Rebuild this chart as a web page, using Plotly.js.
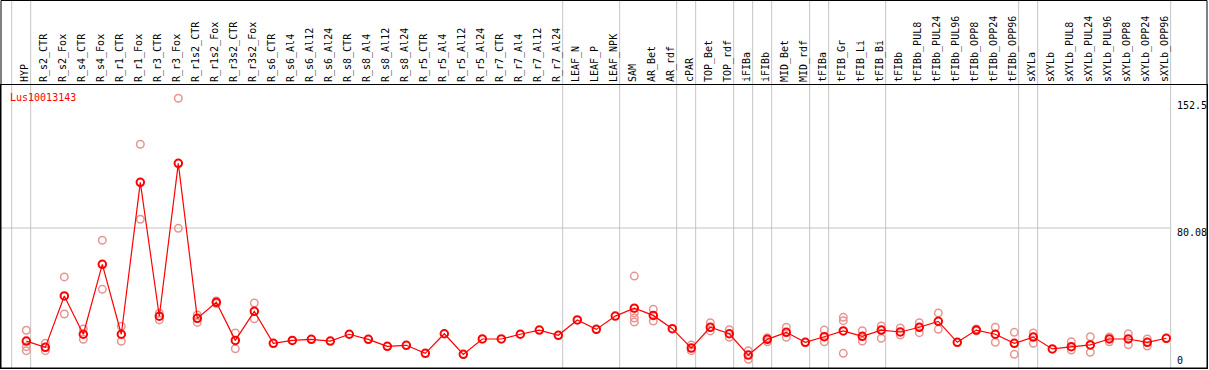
<!DOCTYPE html>
<html>
<head>
<meta charset="utf-8">
<script src="https://cdn.plot.ly/plotly-3.0.1.min.js"></script>
<style>html,body{margin:0;padding:0;background:#fff;}#chart{width:1209px;height:370px;}</style>
</head>
<body>
<div id="chart"></div>
<script>
// ---- data ----
const geneName = "Lus10013143";
const categories = ["HYP","R_s2_CTR","R_s2_Fox","R_s4_CTR","R_s4_Fox","R_r1_CTR","R_r1_Fox","R_r3_CTR","R_r3_Fox",
  "R_r1s2_CTR","R_r1s2_Fox","R_r3s2_CTR","R_r3s2_Fox","R_s6_CTR","R_s6_Al4","R_s6_Al12","R_s6_Al24",
  "R_s8_CTR","R_s8_Al4","R_s8_Al12","R_s8_Al24","R_r5_CTR","R_r5_Al4","R_r5_Al12","R_r5_Al24",
  "R_r7_CTR","R_r7_Al4","R_r7_Al12","R_r7_Al24","LEAF_N","LEAF_P","LEAF_NPK","SAM","AR_Bet","AR_rdf",
  "cPAR","TOP_Bet","TOP_rdf","iFIBa","iFIBb","MID_Bet","MID_rdf","tFIBa","tFIB_Gr","tFIB_Li","tFIB_Bi",
  "tFIBb","tFIBb_PUL8","tFIBb_PUL24","tFIBb_PUL96","tFIBb_OPP8","tFIBb_OPP24","tFIBb_OPP96","sXYLa",
  "sXYLb","sXYLb_PUL8","sXYLb_PUL24","sXYLb_PUL96","sXYLb_OPP8","sXYLb_OPP24","sXYLb_OPP96"];
const means = [15.4,11.8,41.2,19.3,59.3,19.3,106.2,29.6,117.1,
  28.4,37.6,15.8,32.4,14.1,15.8,16.4,15.4,
  19.3,16.4,12.4,13.0,8.4,19.6,7.8,16.6,
  16.6,19.3,21.7,18.7,27.5,22.1,29.7,34.2,30.1,22.5,
  11.4,23.3,19.6,7.4,16.4,20.4,14.7,17.9,21.2,18.1,21.7,
  20.6,23.3,26.7,14.7,21.7,19.3,14.1,17.7,
  10.9,12.2,13.2,16.6,16.6,14.7,17.0];
const replicates = [[21.6,12.2,9.9],[14.1,9.9],[52.1,30.9],[22.3,16.4],[73.1,45.0],[23.9,15.3],[128.0,85.1],[31.3,27.5],[154.3,79.9],
  [30.3,26.1],[38.3,36.9],[20.0,11.0],[37.2,28.2],[],[],[],[],
  [],[],[],[],[],[],[],[],
  [],[],[],[],[],[],[],[52.6,31.5,28.6,26.3],[33.6,26.9],[],
  [13.2,9.9],[25.9,21.2],[21.9,17.6],[9.9,5.0],[17.3,15.0],[23.3,17.6],[],[21.7,15.0],[29.0,27.1,8.4],[21.3,15.4],[24.0,17.0],
  [22.9,18.9],[25.9,20.2],[31.5,22.1],[],[22.3,21.2],[23.3,14.7],[20.4,7.8],[20.0,14.1],
  [],[15.0,10.3],[17.9,9.0],[17.7,15.0],[19.6,13.3],[16.6,12.6],[]];
const groupEnds = [-1,0,28,31,34,35,37,38,39,41,42,45,52,53,60];
const yTickVals = [152.5, 80.08, 0];
const yTickText = ["152.5", "80.08", "0"];
const refLine = 80.08;

// ---- build ----
const idx = categories.map((c,i)=>i);
const repX = [], repY = [];
replicates.forEach((r,i)=>r.forEach(v=>{repX.push(i); repY.push(v);}));

const W = 1209, H = 370, mT = 85, mB = 2, mL = 1, mR = 2;
const plotH = H - mT - mB;
const topPaper = 1 + (mT - 0.5) / plotH;
const mono = "DejaVu Sans Mono, monospace";

const shapes = [];
groupEnds.forEach(g=>shapes.push({type:'line', xref:'x', yref:'paper', x0:g+0.23, x1:g+0.23, y0:0, y1:topPaper,
  line:{color:'#c4c4c4', width:1}, layer:'below'}));
shapes.push({type:'line', xref:'paper', yref:'y', x0:0, x1:0.970, y0:refLine, y1:refLine,
  line:{color:'#c4c4c4', width:1}, layer:'below'});
shapes.push({type:'rect', xref:'paper', yref:'paper', x0:0, x1:1, y0:0, y1:topPaper,
  line:{color:'#000', width:1}, fillcolor:'rgba(0,0,0,0)'});

const annotations = [{text:geneName, xref:'paper', yref:'paper', x:0, y:1, xanchor:'left', yanchor:'top',
  xshift:7, yshift:-5, showarrow:false, font:{family:mono, size:10, color:'#ff0000'}}];
yTickVals.forEach((v,i)=>annotations.push({text:yTickText[i], xref:'paper', yref:'y', x:0.976, y:v,
  xanchor:'left', xshift:-3, yanchor: v===0 ? 'bottom' : 'middle', yshift: v===0 ? 0 : -4,
  showarrow:false, font:{family:mono, size:10, color:'#000'}}));

const traces = [
  {type:'scatter', mode:'markers', x:repX, y:repY, hoverinfo:'skip',
   marker:{symbol:'circle-open', size:7.5, color:'#e89494', line:{width:1.5, color:'#e89494'}}},
  {type:'scatter', mode:'lines+markers', x:idx, y:means,
   line:{color:'#ff0000', width:1.2},
   marker:{symbol:'circle-open', size:7.5, color:'#ff0000', line:{width:2, color:'#ff0000'}}}
];

const layout = {
  width:W, height:H, margin:{l:mL, r:mR, t:mT, b:mB, pad:0},
  paper_bgcolor:'#fff', plot_bgcolor:'#fff', showlegend:false,
  xaxis:{range:[-1.332, 62.142], side:'top', tickmode:'array', tickvals:idx, ticktext:categories,
    tickangle:-90, ticklabelshift:-2, tickfont:{family:mono, size:10, color:'#000'}, showgrid:false, zeroline:false,
    showline:true, linecolor:'#000', linewidth:1, mirror:true, ticks:'', fixedrange:true},
  yaxis:{range:[0, plotH/1.748], showgrid:false, zeroline:false, showticklabels:false,
    showline:true, linecolor:'#000', linewidth:1, mirror:true, ticks:'', fixedrange:true},
  shapes:shapes, annotations:annotations
};
Plotly.newPlot('chart', traces, layout, {displayModeBar:false, staticPlot:true});
</script>
</body>
</html>
